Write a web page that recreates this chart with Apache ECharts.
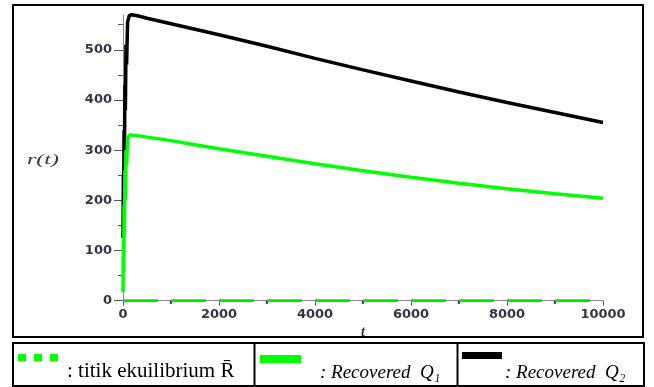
<!DOCTYPE html>
<html>
<head>
<meta charset="utf-8">
<script src="https://cdn.jsdelivr.net/npm/echarts@6/dist/echarts.min.js"></script>
<style>
  html, body { margin: 0; padding: 0; background: #fff; }
  #chart { width: 654px; height: 387px; }
</style>
</head>
<body>
<div id="chart"></div>
<script>
// Time samples (t) and solution values r(t) for each curve
const q2Time   = [0, 8, 14, 22, 30, 40, 50, 62, 75, 95, 130, 180, 300, 500, 1000, 1500, 2000, 3000, 4000, 5000, 6000, 7000, 8000, 9000, 10000];
const q2Values = [125, 250, 200, 340, 290, 430, 380, 510, 470, 555, 568, 570, 568, 563, 552, 541, 530, 507, 483, 460, 438, 416, 395, 375, 355];

const q1Time   = [0, 8, 14, 22, 30, 40, 50, 62, 75, 95, 130, 180, 300, 500, 1000, 1500, 2000, 3000, 4000, 5000, 6000, 7000, 8000, 9000, 10000];
const q1Values = [17, 120, 60, 190, 130, 260, 200, 300, 270, 322, 330, 330, 329, 326, 319, 311, 303, 288, 273, 259, 246, 234, 223, 213, 204];

// Equilibrium level R-bar
const eqTime   = [0, 10000];
const eqValues = [0, 0];

// Axis tick values
const yMajorTicks = [0, 100, 200, 300, 400, 500];
const yMinorTicks = [50, 150, 250, 350, 450, 550];
const xTicks = [0, 2000, 4000, 6000, 8000, 10000];

const pairs = (xs, ys) => xs.map((x, i) => [x, ys[i]]);

const tickFont = {
  color: '#34344a',
  fontFamily: 'DejaVu Sans',
  fontWeight: 'bold',
  fontSize: 13
};

const chart = echarts.init(document.getElementById('chart'), null, { renderer: 'canvas' });

chart.setOption({
  animation: false,
  backgroundColor: '#ffffff',
  grid: { left: 123, right: 51, top: 14.7, bottom: 86.3, containLabel: false },
  xAxis: {
    type: 'value',
    min: 0,
    max: 10000,
    interval: 2000,
    name: 't',
    nameLocation: 'middle',
    nameGap: 24,
    nameTextStyle: { fontFamily: 'Liberation Serif', fontStyle: 'italic', fontWeight: 'bold', fontSize: 14, color: '#34344a' },
    axisLine: { lineStyle: { color: '#8a8a8a', width: 1 } },
    axisTick: { show: true, length: 5, lineStyle: { color: '#555', width: 1 } },
    minorTick: { show: true, splitNumber: 2, length: 3, lineStyle: { color: '#222', width: 2 } },
    axisLabel: Object.assign({ margin: 7, customValues: xTicks, formatter: v => String(v) }, tickFont),
    splitLine: { show: false }
  },
  yAxis: [
    {
      type: 'value',
      min: 0,
      max: 570,
      interval: 100,
      axisLine: { show: true, lineStyle: { color: '#8a8a8a', width: 1 } },
      axisTick: { show: true, length: 9, customValues: yMajorTicks, lineStyle: { color: '#555', width: 1 } },
      axisLabel: Object.assign({ margin: 11, customValues: yMajorTicks, formatter: v => String(v) }, tickFont),
      splitLine: { show: false }
    },
    {
      type: 'value',
      min: 0,
      max: 570,
      interval: 50,
      position: 'left',
      axisLine: { show: false },
      axisTick: { show: true, length: 5, customValues: yMinorTicks, lineStyle: { color: '#555', width: 1 } },
      axisLabel: { show: false },
      splitLine: { show: false }
    }
  ],
  series: [
    {
      name: 'R-bar',
      type: 'line',
      data: pairs(eqTime, eqValues),
      showSymbol: false,
      lineStyle: { color: '#00e600', width: 3, type: [35, 13] },
      z: 3
    },
    {
      name: 'Recovered Q2',
      type: 'line',
      data: pairs(q2Time, q2Values),
      showSymbol: false,
      lineStyle: { color: '#000000', width: 3.5 },
      z: 4
    },
    {
      name: 'Recovered Q1',
      type: 'line',
      data: pairs(q1Time, q1Values),
      showSymbol: false,
      lineStyle: { color: '#00ff00', width: 3.5 },
      z: 5
    }
  ],
  graphic: [
    // plot frame
    { type: 'rect', shape: { x: 13, y: 5, width: 630, height: 332 }, style: { fill: 'none', stroke: '#000', lineWidth: 2 }, silent: true },
    // vertical axis title
    {
      type: 'text', x: 27, y: 160, scaleX: 1.6, originX: 0, originY: 0,
      style: { text: 'r(t)', fontFamily: 'Liberation Serif', fontStyle: 'italic', fontSize: 15, fill: '#34344a', textVerticalAlign: 'middle' }
    },
    // legend table
    { type: 'rect', shape: { x: 13, y: 343, width: 631, height: 43 }, style: { fill: 'none', stroke: '#000', lineWidth: 2 }, silent: true },
    { type: 'line', shape: { x1: 254.5, y1: 343, x2: 254.5, y2: 386 }, style: { stroke: '#000', lineWidth: 2 } },
    { type: 'line', shape: { x1: 457.5, y1: 343, x2: 457.5, y2: 386 }, style: { stroke: '#000', lineWidth: 2 } },
    { type: 'rect', shape: { x: 18, y: 354, width: 8, height: 7 }, style: { fill: '#00ff00' } },
    { type: 'rect', shape: { x: 34, y: 354, width: 8, height: 7 }, style: { fill: '#00ff00' } },
    { type: 'rect', shape: { x: 50, y: 354, width: 8, height: 7 }, style: { fill: '#00ff00' } },
    {
      type: 'text', x: 67, y: 382,
      style: {
        text: ': titik ekuilibrium R\u0304',
        fontFamily: 'Liberation Serif', fontSize: 21, fill: '#000', textVerticalAlign: 'bottom'
      }
    },
    { type: 'rect', shape: { x: 260, y: 355, width: 41, height: 8 }, style: { fill: '#00ff00' } },
    {
      type: 'text', x: 320, y: 382,
      style: {
        text: ': Recovered  Q\u2081',
        fontFamily: 'Liberation Serif', fontStyle: 'italic', fontSize: 19, fill: '#000', textVerticalAlign: 'bottom'
      }
    },
    { type: 'rect', shape: { x: 462, y: 352, width: 40, height: 7 }, style: { fill: '#000' } },
    {
      type: 'text', x: 505, y: 382,
      style: {
        text: ': Recovered  Q\u2082',
        fontFamily: 'Liberation Serif', fontStyle: 'italic', fontSize: 19, fill: '#000', textVerticalAlign: 'bottom'
      }
    }
  ]
});
</script>
</body>
</html>
